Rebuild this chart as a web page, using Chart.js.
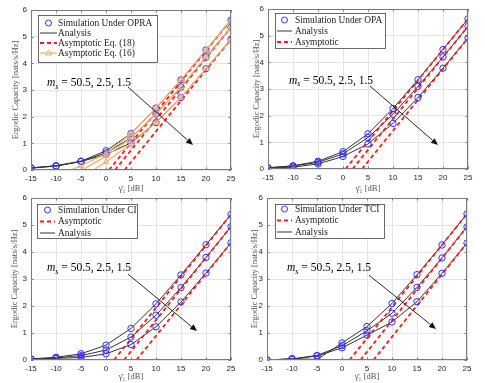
<!DOCTYPE html>
<html>
<head>
<meta charset="utf-8">
<script src="https://cdn.jsdelivr.net/npm/chart.js@4.4.1/dist/chart.umd.min.js"></script>
<style>
  html, body { margin: 0; padding: 0; background: #fff; }
  #wrap { position: relative; width: 485px; height: 383px; overflow: hidden; }
  #wrap canvas { position: absolute; left: 0; top: 0; }
</style>
</head>
<body>
<div id="wrap">
  <canvas id="c1" width="485" height="383"></canvas>
  <canvas id="c2" width="485" height="383"></canvas>
  <canvas id="c3" width="485" height="383"></canvas>
  <canvas id="c4" width="485" height="383"></canvas>
</div>
<script>
const W = 485, H = 383;
const SNR_DB = [-15, -10, -5, 0, 5, 10, 15, 20, 25];

// OPRA (top left): m_s = 50.5, 2.5, 1.5
const OPRA_M50 = [0.08, 0.16, 0.33, 0.72, 1.37, 2.32, 3.38, 4.50, 5.62];
const OPRA_M25 = [0.08, 0.15, 0.32, 0.64, 1.21, 2.10, 3.11, 4.23, 5.35];
const OPRA_M15 = [0.07, 0.15, 0.32, 0.58, 1.02, 1.78, 2.72, 3.80, 4.90];
const OPRA_ASYM18_X = [[0.6, 25], [1.8, 25], [3.7, 25]];
const OPRA_ASYM18_Y = [[0, 5.62], [0, 5.35], [0, 4.90]];
const OPRA_ASYM16_X = [
  [-7.0, -5, 0, 5, 10, 15, 20, 25],
  [-4.8, 0, 5, 10, 15, 20, 25],
  [-2.5, 0, 5, 10, 15, 20, 25]
];
const OPRA_ASYM16_Y = [
  [0, 0.16, 0.62, 1.36, 2.32, 3.38, 4.50, 5.62],
  [0, 0.52, 1.20, 2.10, 3.11, 4.23, 5.35],
  [0, 0.30, 0.98, 1.78, 2.72, 3.80, 4.90]
];

// OPA (top right)
const OPA_M50 = [0.05, 0.12, 0.29, 0.65, 1.32, 2.27, 3.35, 4.48, 5.63];
const OPA_M25 = [0.04, 0.11, 0.25, 0.57, 1.18, 2.05, 3.10, 4.20, 5.35];
const OPA_M15 = [0.03, 0.07, 0.19, 0.47, 0.94, 1.71, 2.68, 3.78, 4.91];
const OPA_ASYM_X = [[0.5, 25], [1.9, 25], [3.8, 25]];
const OPA_ASYM_Y = [[0, 5.63], [0, 5.35], [0, 4.91]];

// CI (bottom left)
const CI_M50 = [0.04, 0.10, 0.23, 0.55, 1.17, 2.08, 3.15, 4.27, 5.39];
const CI_M25 = [0.03, 0.08, 0.16, 0.37, 0.85, 1.66, 2.68, 3.80, 4.94];
const CI_M15 = [0.02, 0.06, 0.09, 0.23, 0.57, 1.23, 2.15, 3.22, 4.34];
const CI_ASYM_X = [[1.6, 25], [3.6, 25], [6.1, 25]];
const CI_ASYM_Y = [[0, 5.39], [0, 4.94], [0, 4.34]];

// TCI (bottom right)
const TCI_M50 = [0.00, 0.05, 0.02, 0.63, 1.24, 2.09, 3.16, 4.26, 5.41];
const TCI_M25 = [0.00, 0.04, 0.17, 0.53, 1.08, 1.73, 2.69, 3.78, 4.93];
const TCI_M15 = [0.00, 0.03, 0.15, 0.45, 0.92, 1.41, 2.16, 3.21, 4.33];
const TCI_ASYM_X = [[1.5, 25], [3.7, 25], [6.3, 25]];
const TCI_ASYM_Y = [[0, 5.41], [0, 4.93], [0, 4.33]];

const NOTE_TEXT = " = 50.5, 2.5, 1.5";

const BLUE = "#3030ff";
const RED = "#ff1a1a";
const ORANGE = "#eeae6a";
const BLACK = "#333333";
const FRAME = "#7a7a7a";

const pts = (xs, ys) => xs.map((x, i) => ({ x: x, y: ys[i] }));

const PANELS = [
  {
    id: "c1", area: { l: 31, t: 10, r: 231, b: 170 }, xh: 25, yTitleX: 16, xTitleY: 189,
    curves: [OPRA_M50, OPRA_M25, OPRA_M15], asymX: OPRA_ASYM18_X, asymY: OPRA_ASYM18_Y,
    eq16X: OPRA_ASYM16_X, eq16Y: OPRA_ASYM16_Y,
    legend: { box: [38, 15, 158, 63], row0: 23, step: 10, s1: 40, s2: 57, tx: 58,
      items: [["sim", "Simulation Under OPRA"], ["ana", "Analysis"], ["asym", "Asymptotic Eq. (18)"], ["eq16", "Asymptotic Eq. (16)"]] },
    note: { x: -11.8, y: 3.3, ax0: 4.4, ay0: 3.11, ax1: 17.4, ay1: 0.94 }
  },
  {
    id: "c2", area: { l: 268, t: 9, r: 468, b: 169 }, xh: 25, yTitleX: 257, xTitleY: 188.5,
    curves: [OPA_M50, OPA_M25, OPA_M15], asymX: OPA_ASYM_X, asymY: OPA_ASYM_Y,
    legend: { box: [275, 13, 386, 49], row0: 20, step: 11, s1: 277, s2: 292, tx: 295,
      items: [["sim", "Simulation Under OPA"], ["ana", "Analysis"], ["asym", "Asymptotic"]] },
    note: { x: -10.8, y: 3.34, ax0: 5.4, ay0: 3.11, ax1: 19.0, ay1: 0.9 }
  },
  {
    id: "c3", area: { l: 31, t: 198, r: 231, b: 360 }, xh: 22, yTitleX: 15, xTitleY: 377,
    curves: [CI_M50, CI_M25, CI_M15], asymX: CI_ASYM_X, asymY: CI_ASYM_Y,
    legend: { box: [37, 204, 138, 239], row0: 210, step: 11.5, s1: 40, s2: 55, tx: 58,
      items: [["sim", "Simulation Under CI"], ["asym", "Asymptotic"], ["ana", "Analysis"]] },
    note: { x: -11.8, y: 3.44, ax0: 4.4, ay0: 3.18, ax1: 18.2, ay1: 1.07 }
  },
  {
    id: "c4", area: { l: 267, t: 198, r: 467, b: 360 }, xh: 22, yTitleX: 255, xTitleY: 377,
    curves: [TCI_M50, TCI_M25, TCI_M15], asymX: TCI_ASYM_X, asymY: TCI_ASYM_Y,
    legend: { box: [275, 204, 385, 239], row0: 209, step: 11.5, s1: 277, s2: 292, tx: 295,
      items: [["sim", "Simulation Under TCI"], ["asym", "Asymptotic"], ["ana", "Analysis"]] },
    note: { x: -11.0, y: 3.44, ax0: 5.4, ay0: 3.14, ax1: 18.8, ay1: 1.15 }
  }
];

const YW = 30;
const TITLE_FONT = 8.5;
const TITLE_LH = TITLE_FONT * 1.2;

function buildDatasets(p) {
  const sets = [];
  if (p.eq16X) {
    p.eq16X.forEach((xs, i) => sets.push({
      data: pts(xs, p.eq16Y[i]),
      borderColor: ORANGE, borderWidth: 1.2, backgroundColor: "rgba(0,0,0,0)",
      pointStyle: "triangle",
      pointRadius: (c) => (c.raw && c.raw.x % 5 === 0 ? 3.2 : 0),
      pointBorderColor: ORANGE, pointBorderWidth: 1, tension: 0
    }));
  }
  p.curves.forEach((ys) => sets.push({
    data: pts(SNR_DB, ys),
    showLine: false, pointStyle: "circle", pointRadius: 3.2,
    pointBorderColor: BLUE, pointBackgroundColor: "rgba(0,0,0,0)", pointBorderWidth: 1
  }));
  p.asymX.forEach((xs, i) => sets.push({
    data: pts(xs, p.asymY[i]),
    borderColor: RED, borderWidth: 1.8, borderDash: [4, 3], pointRadius: 0, tension: 0
  }));
  p.curves.forEach((ys) => sets.push({
    data: pts(SNR_DB, ys),
    borderColor: BLACK, borderWidth: 1, pointRadius: 0, tension: 0
  }));
  return sets;
}

const framePlugin = {
  id: "frame",
  afterDatasetsDraw(chart) {
    const { ctx, chartArea: a, scales } = chart;
    ctx.save();
    ctx.strokeStyle = FRAME;
    ctx.lineWidth = 1;
    ctx.strokeRect(a.left + 0.5, a.top + 0.5, a.right - a.left - 1, a.bottom - a.top - 1);
    ctx.beginPath();
    scales.x.ticks.forEach((t) => {
      const x = Math.round(scales.x.getPixelForValue(t.value)) + 0.5;
      ctx.moveTo(x, a.bottom); ctx.lineTo(x, a.bottom - 2.5);
      ctx.moveTo(x, a.top); ctx.lineTo(x, a.top + 2.5);
    });
    scales.y.ticks.forEach((t) => {
      const y = Math.round(scales.y.getPixelForValue(t.value)) + 0.5;
      ctx.moveTo(a.left, y); ctx.lineTo(a.left + 2.5, y);
      ctx.moveTo(a.right, y); ctx.lineTo(a.right - 2.5, y);
    });
    ctx.stroke();
    ctx.restore();
  }
};

const notePlugin = {
  id: "note",
  afterDatasetsDraw(chart, args, opts) {
    const n = opts.note;
    if (!n) return;
    const { ctx, scales: { x, y } } = chart;
    ctx.save();
    const tx = x.getPixelForValue(n.x), ty = y.getPixelForValue(n.y);
    ctx.fillStyle = "#000";
    ctx.textBaseline = "alphabetic";
    ctx.font = "italic 11.5px 'Liberation Serif'";
    ctx.fillText("m", tx, ty + 4);
    let cx = tx + ctx.measureText("m").width;
    ctx.font = "italic 8px 'Liberation Serif'";
    ctx.fillText("s", cx, ty + 6.5);
    cx += ctx.measureText("s").width;
    ctx.font = "11.5px 'Liberation Serif'";
    ctx.fillText(NOTE_TEXT, cx, ty + 4);

    const x0 = x.getPixelForValue(n.ax0), y0 = y.getPixelForValue(n.ay0);
    const x1 = x.getPixelForValue(n.ax1), y1 = y.getPixelForValue(n.ay1);
    const ang = Math.atan2(y1 - y0, x1 - x0);
    const L = 7, hw = 3;
    ctx.strokeStyle = "#111";
    ctx.lineWidth = 0.9;
    ctx.beginPath();
    ctx.moveTo(x0, y0);
    ctx.lineTo(x1 - L * Math.cos(ang), y1 - L * Math.sin(ang));
    ctx.stroke();
    ctx.beginPath();
    ctx.moveTo(x1, y1);
    ctx.lineTo(x1 - L * Math.cos(ang) + hw * Math.sin(ang), y1 - L * Math.sin(ang) - hw * Math.cos(ang));
    ctx.lineTo(x1 - L * Math.cos(ang) - hw * Math.sin(ang), y1 - L * Math.sin(ang) + hw * Math.cos(ang));
    ctx.closePath();
    ctx.fillStyle = "#111";
    ctx.fill();
    ctx.restore();
  }
};

const legendPlugin = {
  id: "boxLegend",
  afterDraw(chart, args, opts) {
    const lg = opts.legend;
    if (!lg) return;
    const { ctx } = chart;
    const [bx1, by1, bx2, by2] = lg.box;
    ctx.save();
    ctx.fillStyle = "#fff";
    ctx.fillRect(bx1, by1, bx2 - bx1, by2 - by1);
    ctx.strokeStyle = "#444";
    ctx.lineWidth = 0.8;
    ctx.strokeRect(bx1 + 0.5, by1 + 0.5, bx2 - bx1 - 1, by2 - by1 - 1);
    lg.items.forEach(([kind, label], i) => {
      const yy = lg.row0 + i * lg.step;
      const mx = (lg.s1 + lg.s2) / 2;
      ctx.setLineDash([]);
      if (kind === "sim") {
        ctx.strokeStyle = BLUE; ctx.lineWidth = 1;
        ctx.beginPath(); ctx.arc(mx, yy, 3, 0, Math.PI * 2); ctx.stroke();
      } else if (kind === "ana") {
        ctx.strokeStyle = BLACK; ctx.lineWidth = 1;
        ctx.beginPath(); ctx.moveTo(lg.s1, yy); ctx.lineTo(lg.s2, yy); ctx.stroke();
      } else if (kind === "asym") {
        ctx.strokeStyle = RED; ctx.lineWidth = 1.8; ctx.setLineDash([4, 3]);
        ctx.beginPath(); ctx.moveTo(lg.s1, yy); ctx.lineTo(lg.s2, yy); ctx.stroke();
        ctx.setLineDash([]);
      } else if (kind === "eq16") {
        ctx.strokeStyle = ORANGE; ctx.lineWidth = 1.2;
        ctx.beginPath(); ctx.moveTo(lg.s1, yy); ctx.lineTo(lg.s2, yy); ctx.stroke();
        ctx.lineWidth = 1;
        ctx.beginPath();
        ctx.moveTo(mx, yy - 3.2); ctx.lineTo(mx + 3, yy + 2); ctx.lineTo(mx - 3, yy + 2); ctx.closePath();
        ctx.stroke();
      }
      ctx.fillStyle = "#222";
      ctx.font = "9.4px 'Liberation Serif'";
      ctx.textBaseline = "middle";
      ctx.fillText(label, lg.tx, yy + 0.5);
    });
    ctx.restore();
  }
};

function makePanel(p) {
  const a = p.area;
  const scaleBottom = a.b + p.xh;
  return new Chart(document.getElementById(p.id), {
    type: "line",
    data: { datasets: buildDatasets(p) },
    plugins: [framePlugin, notePlugin, legendPlugin],
    options: {
      responsive: false,
      animation: false,
      events: [],
      layout: { padding: { left: a.l - YW, top: a.t, right: W - a.r, bottom: H - scaleBottom } },
      plugins: {
        legend: { display: false },
        tooltip: { enabled: false },
        note: { note: p.note },
        boxLegend: { legend: p.legend }
      },
      scales: {
        x: {
          type: "linear", min: -15, max: 25,
          ticks: { stepSize: 5, padding: 4, color: "#262626", maxRotation: 0, autoSkip: false,
            font: { family: "'Liberation Sans'", size: 8 } },
          grid: { color: "#e4e4e4", drawTicks: false },
          border: { display: false },
          title: { display: true, text: "γ̄\u2081 [dB]", color: "#555",
            font: { family: "'Liberation Serif'", size: TITLE_FONT },
            padding: { top: 0, bottom: scaleBottom - p.xTitleY - TITLE_LH / 2 } },
          afterFit(s) { s.height = p.xh; }
        },
        y: {
          min: 0, max: 6,
          ticks: { stepSize: 1, padding: 4, color: "#262626",
            font: { family: "'Liberation Sans'", size: 8 } },
          grid: { color: "#e4e4e4", drawTicks: false },
          border: { display: false },
          title: { display: true, text: "Ergodic Capacity [nats/s/Hz]", color: "#555",
            font: { family: "'Liberation Serif'", size: TITLE_FONT },
            padding: { top: p.yTitleX - (a.l - YW) - TITLE_LH / 2, bottom: 0 } },
          afterFit(s) { s.width = YW; }
        }
      }
    }
  });
}

PANELS.forEach(makePanel);
</script>
</body>
</html>
